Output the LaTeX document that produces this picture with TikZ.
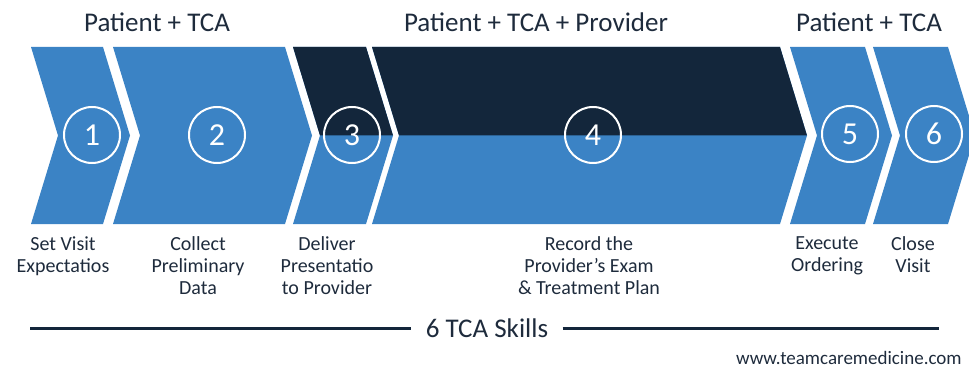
\documentclass[tikz,border=0pt]{standalone}
\usepackage{fontspec}
\setmainfont{Carlito}
\usepackage{tikz}

\definecolor{tcablue}{RGB}{59,131,197}
\definecolor{tcanavy}{RGB}{19,38,59}
\definecolor{tcatext}{RGB}{30,43,60}

\begin{document}
\begin{tikzpicture}[x=0.5pt,y=-0.5pt,
    stepnum/.style={circle,draw=white,line width=1pt,minimum size=28pt,inner sep=0pt,
      text=white,font=\fontsize{16}{16}\selectfont},
    skill/.style={anchor=north,align=center,inner sep=0pt,text=tcatext,
      font=\fontsize{10}{11}\selectfont},
    group/.style={text=tcatext,inner sep=0pt,font=\fontsize{13.5}{14}\selectfont}]
  \useasboundingbox (0,0) rectangle (969,369);
  \begin{scope}
    \clip (0,0) rectangle (969,369);
    \foreach \l/\r in {31/103,113/285,293/366,372/780,790/865,873/948}
      \fill[tcablue] (\l,47) -- (\r,47) -- (\r+27,135.5) -- (\r,224) -- (\l,224) -- (\l+27,135.5) -- cycle;
    \fill[tcanavy] (293,47) -- (366,47) -- (393,135.5) -- (320,135.5) -- cycle;
    \fill[tcanavy] (372,47) -- (780,47) -- (807,135.5) -- (399,135.5) -- cycle;
  \end{scope}
  \node[group] (ptca) at (157,22) {Patient + TCA};
  \node[group] (ptcap) at (536,22) {Patient + TCA + Provider};
  \node[group] (ptcb) at (869,22) {Patient + TCA};
  \node[stepnum] (n1) at (92,135) {1};
  \node[stepnum] (n2) at (217,135) {2};
  \node[stepnum] (n3) at (352,135) {3};
  \node[stepnum] (n4) at (593,135) {4};
  \node[stepnum] (n5) at (850,134) {5};
  \node[stepnum] (n6) at (934,134) {6};
  \node[skill] (s1) at (63,236) {Set Visit\\Expectatios};
  \node[skill] (s2) at (198,236) {Collect\\Preliminary\\Data};
  \node[skill] (s3) at (327,236) {Deliver\\Presentatio\\to Provider};
  \node[skill] (s4) at (589,236) {Record the\\Provider’s Exam\\\& Treatment Plan};
  \node[skill] (s5) at (827,236) {Execute\\Ordering};
  \node[skill] (s6) at (913,236) {Close\\Visit};
  \node[group,inner sep=7pt] (skills) at (487,328) {6 TCA Skills};
  \coordinate (lineL) at (30,328);
  \coordinate (lineR) at (939,328);
  \draw[tcanavy,line width=1.5pt] (lineL) -- (skills.west);
  \draw[tcanavy,line width=1.5pt] (skills.east) -- (lineR);
  \node[anchor=east,inner sep=0pt,text=tcatext,font=\fontsize{9.5}{10}\selectfont] (web) at (962,358) {www.teamcaremedicine.com};
\end{tikzpicture}
\end{document}
